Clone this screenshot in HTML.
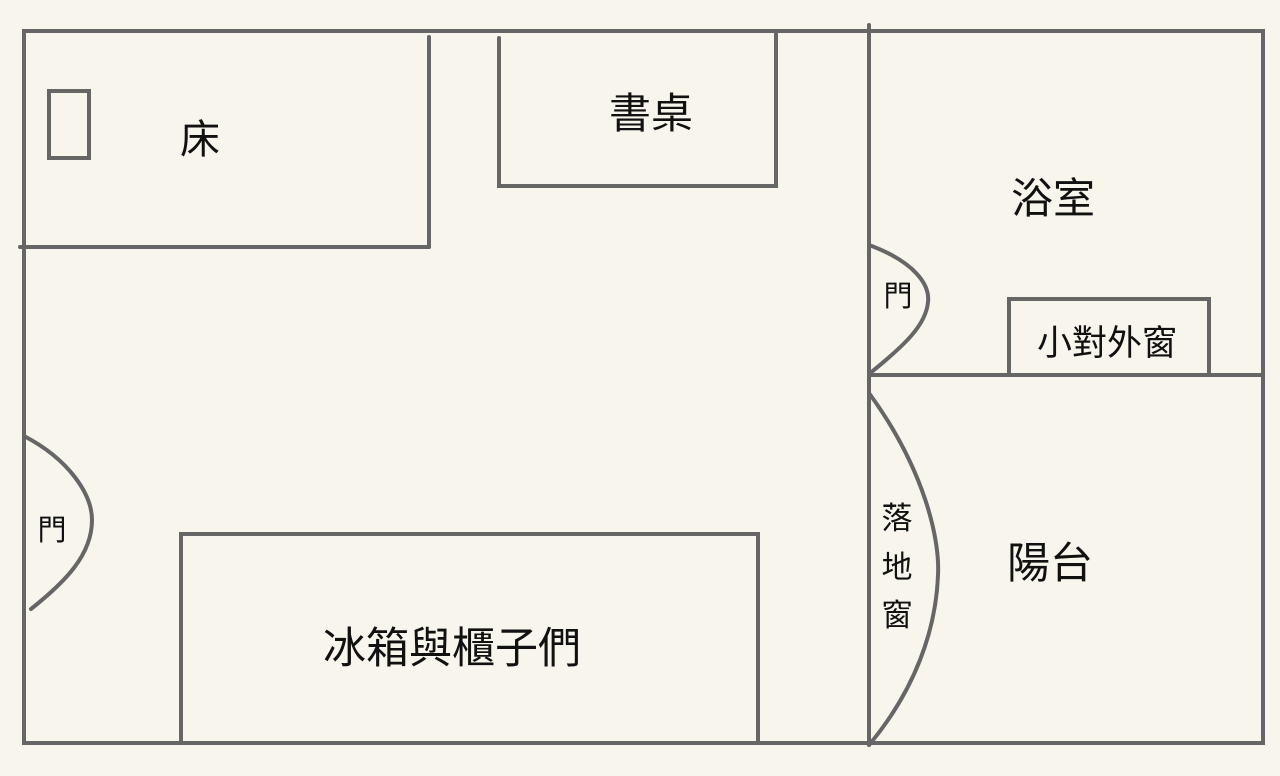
<!DOCTYPE html>
<html><head><meta charset="utf-8"><style>
html,body{margin:0;padding:0;background:#f7f5ec;}
svg{display:block}
text{font-family:"Liberation Sans","Noto Sans CJK TC",sans-serif;fill:#111;}
</style></head><body>
<svg width="1280" height="776" viewBox="0 0 1280 776" xmlns="http://www.w3.org/2000/svg">
<rect width="1280" height="776" fill="#f7f5ec"/>
<g fill="none" stroke="#666" stroke-width="4" stroke-linecap="round">
<rect x="24" y="31" width="1239" height="712"/>
<line x1="869" y1="25" x2="869" y2="745"/>
<line x1="429" y1="37" x2="429" y2="247"/>
<line x1="20" y1="247" x2="429" y2="247"/>
<rect x="49" y="91" width="40" height="67"/>
<polyline points="499,38 499,186 776,186 776,33"/>
<line x1="869" y1="375" x2="1263" y2="375"/>
<polyline points="1009,375 1009,299 1209,299 1209,375"/>
<path d="M869,245 C915,262 930,285 928,302 C926,325 905,345 869,374"/>
<path d="M869,393 C925,470 940,540 938,575 C936,630 915,690 869,745"/>
<path d="M24,436 C70,460 92,495 92,520 C92,555 65,582 31,609"/>
<rect x="181" y="534" width="577" height="209"/>
</g>
<g font-size="36" text-anchor="middle">
<text x="200" y="153" font-size="40">床</text>
<text x="651" y="128" font-size="42">書桌</text>
<text x="1053" y="213" font-size="42">浴室</text>
<text x="898" y="306" font-size="29">門</text>
<text x="1107" y="355" font-size="35">小對外窗</text>
<text x="897" y="529" font-size="31">落</text>
<text x="897" y="578" font-size="31">地</text>
<text x="897" y="626" font-size="31">窗</text>
<text x="1050" y="578" font-size="43">陽台</text>
<text x="452" y="663" font-size="43">冰箱與櫃子們</text>
<text x="52" y="540" font-size="29">門</text>
</g>
</svg>
</body></html>
